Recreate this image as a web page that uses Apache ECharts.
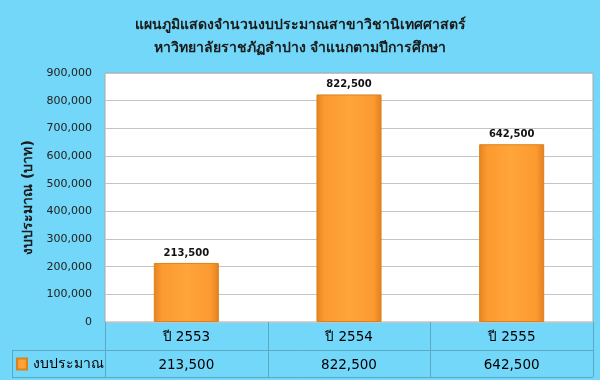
<!DOCTYPE html>
<html><head><meta charset="utf-8">
<script src="https://cdn.jsdelivr.net/npm/echarts@6/dist/echarts.min.js"></script>
<style>html,body{margin:0;padding:0;background:#72d7f8;}#c{width:600px;height:380px;}</style>
</head><body><div id="c"></div>
<script>
var titleLines = ['แผนภูมิแสดงจำนวนงบประมาณสาขาวิชานิเทศศาสตร์', 'หาวิทยาลัยราชภัฏลำปาง จำแนกตามปีการศึกษา'];
var categories = ['ปี 2553', 'ปี 2554', 'ปี 2555'];
var seriesName = 'งบประมาณ';
var budget = [213500, 822500, 642500];
var yAxisName = 'งบประมาณ (บาท)';
var yMin = 0, yMax = 900000, yStep = 100000;

var G = {left: 105, right: 7, top: 73, bottom: 58};
var W = 600, H = 380;
var FONT = 'Tahoma, "DejaVu Sans", "Noto Sans", sans-serif';
function fmt(v){ return v.toLocaleString('en-US'); }

var chart = echarts.init(document.getElementById('c'), null, {renderer:'canvas'});
var option = {
  backgroundColor: '#72d7f8',
  animation: false,
  textStyle: {fontFamily: FONT},
  title: {
    text: titleLines.join('\n'), left: 'center', top: 9,
    textStyle: {fontSize: 14, fontWeight: 'bold', color: '#1a1a1a', lineHeight: 23, fontFamily: FONT}
  },
  legend: {
    data: [seriesName], left: 16, top: 357, padding: 0, icon: 'rect', itemWidth: 10, itemHeight: 11, itemGap: 5,
    textStyle: {fontSize: 14, color: '#000', fontFamily: FONT, padding: [0, 0, 0, 1]}
  },
  grid: {left: G.left, right: G.right, top: G.top, bottom: G.bottom, show: true, backgroundColor: '#ffffff', borderColor: '#a8a8a8', borderWidth: 1},
  xAxis: [{
    type: 'category', data: categories, position: 'bottom',
    axisLine: {show: false}, axisTick: {show: false},
    axisLabel: {margin: 8, fontSize: 13.5, color: '#000', fontFamily: FONT}
  }, {
    type: 'category', data: categories, position: 'bottom', offset: 28, gridIndex: 0,
    axisLine: {show: false}, axisTick: {show: false},
    axisLabel: {margin: 8, fontSize: 13.5, color: '#000', fontFamily: FONT,
      formatter: function(v, i){ return fmt(budget[i]); }}
  }],
  yAxis: {
    type: 'value', min: yMin, max: yMax, interval: yStep,
    name: yAxisName, nameLocation: 'middle', nameGap: 70, nameRotate: 90,
    nameTextStyle: {fontSize: 14, fontWeight: 'bold', color: '#1a1a1a', fontFamily: FONT},
    axisLine: {show: false}, axisTick: {show: false},
    axisLabel: {fontSize: 11, color: '#222', margin: 13, formatter: function(v){ return fmt(v); }},
    splitLine: {lineStyle: {color: '#c4c4c4', width: 1}}
  },
  series: [{
    name: seriesName, type: 'bar', data: budget, barWidth: '40%',
    itemStyle: {
      color: new echarts.graphic.LinearGradient(0, 0, 1, 0, [
        {offset: 0, color: '#e58420'}, {offset: 0.12, color: '#fb9a2f'},
        {offset: 0.5, color: '#ffa53a'}, {offset: 0.88, color: '#fb9a2f'}, {offset: 1, color: '#e27f1e'}
      ]),
      borderColor: '#d9821f', borderWidth: 1
    },
    label: {show: true, position: 'top', distance: 5, fontSize: 10, fontWeight: 'bold', color: '#111', fontFamily: FONT,
      formatter: function(p){ return fmt(p.value); }}
  }]
};
chart.setOption(option);

// table borders
var y0 = H - G.bottom, y1 = y0 + 28, y2 = y1 + 27;
var xl = G.left, xr = W - G.right, cw = (xr - xl) / categories.length;
var lc = '#5aa9c4';
var els = [];
function ln(x1, ya, x2, yb){ els.push({type:'line', shape:{x1:x1,y1:ya,x2:x2,y2:yb}, style:{stroke:lc, lineWidth:1}, silent:true}); }
ln(12, y1 + 0.5, xr, y1 + 0.5);
ln(12, y2 + 0.5, xr, y2 + 0.5);
ln(12.5, y1, 12.5, y2);
for (var i = 0; i <= categories.length; i++) { var x = Math.round(xl + i * cw) + 0.5; ln(x, y0, x, y2); }
chart.setOption({graphic: els});
</script></body></html>
